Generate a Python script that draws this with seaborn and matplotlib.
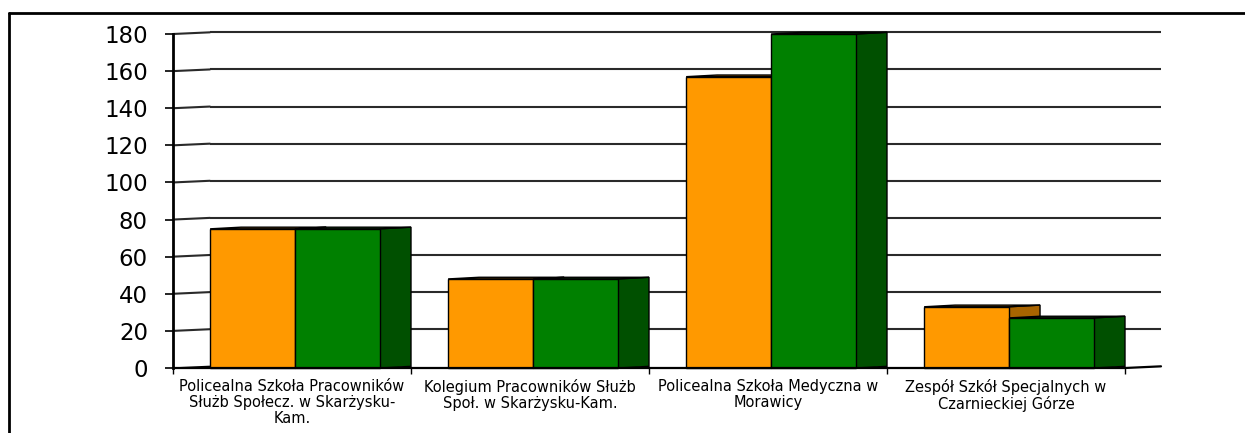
import numpy as np
import pandas as pd
import matplotlib
import matplotlib.pyplot as plt
import seaborn as sns
from matplotlib.patches import Polygon
from matplotlib.lines import Line2D

matplotlib.use('agg')

schools = [
    "Policealna Szkoła Pracowników\nSłużb Społecz. w Skarżysku-\nKam.",
    "Kolegium Pracowników Służb\nSpoł. w Skarżysku-Kam.",
    "Policealna Szkoła Medyczna w\nMorawicy",
    "Zespół Szkół Specjalnych w\nCzarnieckiej Górze",
]
series_names = ["A", "B"]
series_a = [75, 48, 157, 33]
series_b = [75, 48, 180, 27]
yticks = [0, 20, 40, 60, 80, 100, 120, 140, 160, 180]

front_colors = ["#FF9900", "#008000"]
side_colors = ["#A86400", "#005000"]

df = pd.DataFrame({
    "school": schools * 2,
    "series": [series_names[0]] * 4 + [series_names[1]] * 4,
    "value": series_a + series_b,
})

sns.set_style("white")
plt.rcParams['font.family'] = ['DejaVu Sans']

fig = plt.figure(figsize=(12.45, 4.33), dpi=100)
ax = fig.add_axes([173 / 1245, 1 - 368 / 433, (1161 - 173) / 1245, (368 - 34) / 433])

sns.barplot(data=df, x="school", y="value", hue="series", palette=front_colors,
            width=0.714, edgecolor="black", linewidth=1.0, legend=False, ax=ax,
            saturation=1)

# depth of the 3d look, in data units
depth_x = 0.13
depth_y = 0.9
wall_x = 0.155
shift = 0.013

ax.set_xlim(-0.5, 3.5 + 36 / 238)
ax.set_ylim(0, 180)

# side and top faces for every bar
for i, bar in enumerate(ax.patches):
    s = i // 4
    bar.set_x(bar.get_x() + shift)
    x0 = bar.get_x()
    x1 = x0 + bar.get_width()
    h = bar.get_height()
    bar.set_zorder(4 + 2 * s)
    bar.set_clip_on(False)
    side = Polygon([(x1, 0), (x1 + depth_x, depth_y), (x1 + depth_x, h + depth_y), (x1, h)],
                   closed=True, facecolor=side_colors[s], edgecolor="black",
                   linewidth=1.0, zorder=3 + 2 * s, clip_on=False)
    top = Polygon([(x0, h), (x0 + depth_x, h + depth_y), (x1 + depth_x, h + depth_y), (x1, h)],
                  closed=True, facecolor=side_colors[s], edgecolor="black",
                  linewidth=1.0, zorder=3 + 2 * s, clip_on=False)
    ax.add_patch(side)
    ax.add_patch(top)

# back wall grid lines and left wall slants
x_right = 3.5 + 36 / 238
for v in yticks[1:]:
    ax.plot([-0.5 + wall_x, x_right], [v + depth_y, v + depth_y], color="#2a2a2a",
            linewidth=1.5, zorder=1, clip_on=False, solid_capstyle="butt")
    ax.plot([-0.5, -0.5 + wall_x], [v, v + depth_y], color="#2a2a2a",
            linewidth=1.5, zorder=1, clip_on=False)
# floor
ax.plot([-0.5, 3.5], [0, 0], color="black", linewidth=1.6, zorder=10, clip_on=False)
ax.plot([3.5, x_right], [0, depth_y], color="black", linewidth=1.6, zorder=10, clip_on=False)
ax.plot([-0.5, -0.5 + wall_x], [0, depth_y], color="black", linewidth=1.0, zorder=2, clip_on=False)

sns.despine(ax=ax, top=True, right=True, bottom=True, left=False)
ax.spines['left'].set_color("black")
ax.spines['left'].set_linewidth(2.0)
ax.spines['left'].set_zorder(10)

ax.set_yticks(yticks)
ax.set_yticklabels([str(v) for v in yticks], fontsize=16.5)
ax.tick_params(axis="y", direction="out", length=6, width=1.2, color="black",
               labelcolor="black", pad=12, left=True)

ax.set_xticks([-0.5, 0.5, 1.5, 2.5, 3.5])
ax.set_xticklabels([])
ax.tick_params(axis="x", which="major", direction="out", length=4, width=1.0, color="black", bottom=True)
ax.set_xticks(range(len(schools)), minor=True)
ax.set_xticklabels(schools, minor=True, fontsize=10.5, linespacing=1.08)
ax.tick_params(axis="x", which="minor", length=0, pad=8, labelcolor="black")

ax.set_xlabel("")
ax.set_ylabel("")
ax.grid(False)

# outer frame: top and left only
fig.add_artist(Line2D([9 / 1245, 1], [1 - 13 / 433, 1 - 13 / 433], color="black", linewidth=2.0))
fig.add_artist(Line2D([9 / 1245, 9 / 1245], [0, 1 - 13 / 433], color="black", linewidth=2.0))

fig.savefig("out.png", dpi=100)
plt.close()
